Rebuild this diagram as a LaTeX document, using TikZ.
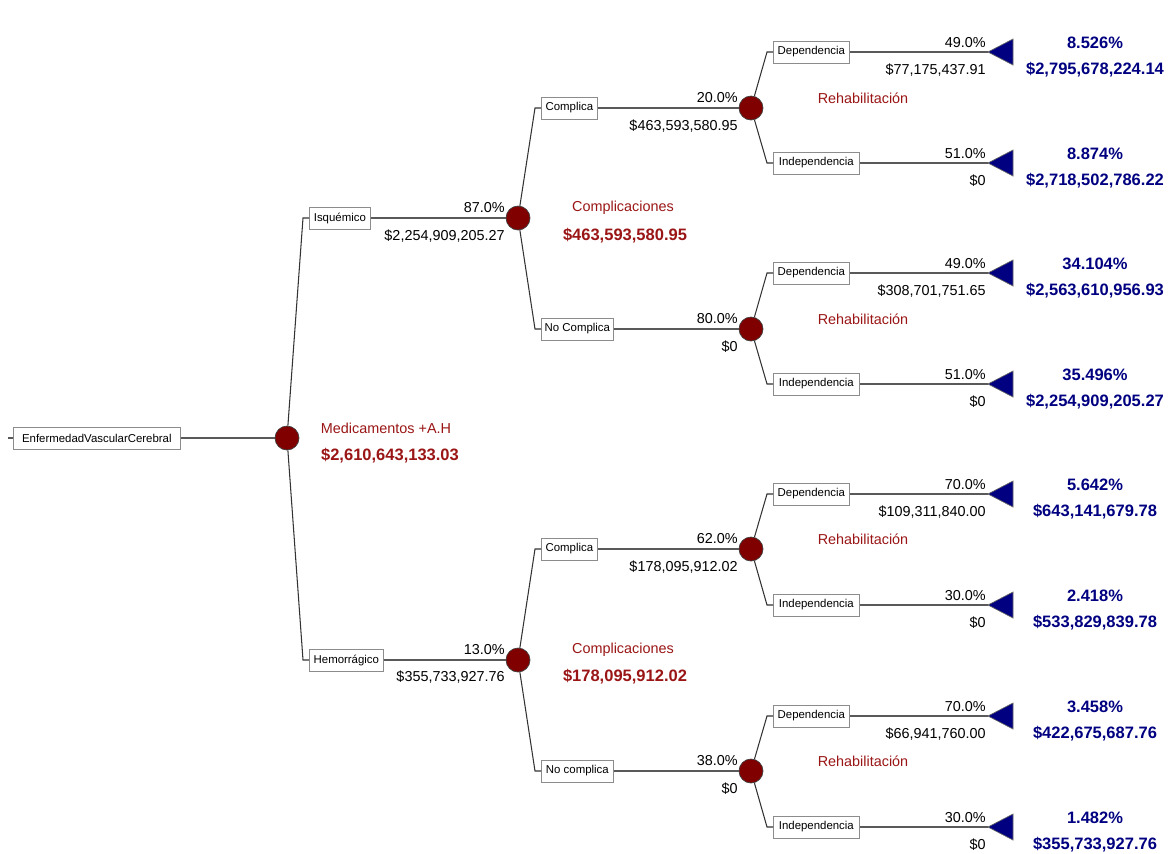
\documentclass[tikz,border=0pt]{standalone}
\usepackage{fontspec}
\setmainfont{Liberation Sans}
\usetikzlibrary{positioning,calc}
\definecolor{chancered}{HTML}{800000}
\definecolor{textred}{HTML}{9A1515}
\definecolor{termblue}{HTML}{000080}
\tikzset{
  box/.style={draw=black!45, fill=white, font=\fontsize{6.5}{7}\selectfont, minimum height=0.44cm, inner sep=1pt},
  chance/.style={circle, draw=black!75, fill=chancered, minimum size=0.48cm, inner sep=0pt},
  branch/.style={draw=black!80, line width=0.6pt},
  stem/.style={draw=black!65, line width=1.1pt},
  lbl/.style={font=\fontsize{8.2}{9}\selectfont, inner sep=0pt},
  nodename/.style={font=\fontsize{8.2}{9}\selectfont, text=textred, inner sep=0pt},
  cost/.style={font=\bfseries\fontsize{9.4}{11}\selectfont, text=textred, inner sep=0pt},
  result/.style={font=\bfseries\fontsize{9.4}{11}\selectfont, text=termblue, inner sep=0pt},
  term/.style={fill=termblue, draw=black!60, line width=0.4pt}
}
\begin{document}
\begin{tikzpicture}[x=0.02cm, y=-0.02cm]

	\useasboundingbox (0,0) rectangle (1173,853);

	% root
	\coordinate (rootin) at (8,438);
	\node[box, anchor=west, minimum width=3.34cm] (root) at (13,438) {EnfermedadVascularCerebral};
	\node[chance] (c0) at (287,438) {};
	\node[nodename] (c0name) at (386,428) {Medicamentos +A.H};
	\node[cost] (c0cost) at (390,456) {\$2,610,643,133.03};
	\draw[stem] (rootin) -- (root.west);
	\draw[stem] (root) -- (c0);

	% Isquemico
	\node[box, anchor=west, minimum width=1.22cm] (isq) at (309,218) {Isquémico};
	\node[chance] (ci) at (518,218) {};
	\node[lbl, anchor=east] at (505,208) {87.0\%};
	\node[lbl, anchor=east] at (505,236) {\$2,254,909,205.27};
	\node[nodename] at (623,208) {Complicaciones};
	\node[cost] at (625,236) {\$463,593,580.95};
	\draw[branch] (c0) -- ([xshift=-0.12cm]isq.west) -- (isq.west);
	\draw[stem] (isq) -- (ci);

	% Hemorragico
	\node[box, anchor=west, minimum width=1.48cm] (hem) at (309,660) {Hemorrágico};
	\node[chance] (ch) at (518,660) {};
	\node[lbl, anchor=east] at (505,650) {13.0\%};
	\node[lbl, anchor=east] at (505,677) {\$355,733,927.76};
	\node[nodename] at (623,650) {Complicaciones};
	\node[cost] at (625,677) {\$178,095,912.02};
	\draw[branch] (c0) -- ([xshift=-0.12cm]hem.west) -- (hem.west);
	\draw[stem] (hem) -- (ch);

	% Isquemico - Complica
	\node[box, anchor=west, minimum width=1.12cm] (icomp) at (541,108) {Complica};
	\node[chance] (cic) at (751,108) {};
	\node[lbl, anchor=east] at (738,98) {20.0\%};
	\node[lbl, anchor=east] at (738,126) {\$463,593,580.95};
	\node[nodename] at (863,98) {Rehabilitación};
	\draw[branch] (ci) -- ([xshift=-0.12cm]icomp.west) -- (icomp.west);
	\draw[stem] (icomp) -- (cic);

	% Isquemico - No Complica
	\node[box, anchor=west, minimum width=1.44cm] (inocomp) at (541,329) {No Complica};
	\node[chance] (cin) at (751,329) {};
	\node[lbl, anchor=east] at (738,319) {80.0\%};
	\node[lbl, anchor=east] at (738,347) {\$0};
	\node[nodename] at (863,319) {Rehabilitación};
	\draw[branch] (ci) -- ([xshift=-0.12cm]inocomp.west) -- (inocomp.west);
	\draw[stem] (inocomp) -- (cin);

	% Hemorragico - Complica
	\node[box, anchor=west, minimum width=1.12cm] (hcomp) at (541,549) {Complica};
	\node[chance] (chc) at (751,549) {};
	\node[lbl, anchor=east] at (738,539) {62.0\%};
	\node[lbl, anchor=east] at (738,567) {\$178,095,912.02};
	\node[nodename] at (863,539) {Rehabilitación};
	\draw[branch] (ch) -- ([xshift=-0.12cm]hcomp.west) -- (hcomp.west);
	\draw[stem] (hcomp) -- (chc);

	% Hemorragico - No complica
	\node[box, anchor=west, minimum width=1.44cm] (hnocomp) at (541,771) {No complica};
	\node[chance] (chn) at (751,771) {};
	\node[lbl, anchor=east] at (738,761) {38.0\%};
	\node[lbl, anchor=east] at (738,789) {\$0};
	\node[nodename] at (863,761) {Rehabilitación};
	\draw[branch] (ch) -- ([xshift=-0.12cm]hnocomp.west) -- (hnocomp.west);
	\draw[stem] (hnocomp) -- (chn);

	% terminals
	\node[box, anchor=west, minimum width=1.52cm] (dep1) at (773,52) {Dependencia};
	\node[box, anchor=west, minimum width=1.72cm] (ind1) at (773,163) {Independencia};
	\node[box, anchor=west, minimum width=1.52cm] (dep2) at (773,273) {Dependencia};
	\node[box, anchor=west, minimum width=1.72cm] (ind2) at (773,384) {Independencia};
	\node[box, anchor=west, minimum width=1.52cm] (dep3) at (773,494) {Dependencia};
	\node[box, anchor=west, minimum width=1.72cm] (ind3) at (773,605) {Independencia};
	\node[box, anchor=west, minimum width=1.52cm] (dep4) at (773,716) {Dependencia};
	\node[box, anchor=west, minimum width=1.72cm] (ind4) at (773,827) {Independencia};

	\coordinate (t1) at (988,52);
	\coordinate (t2) at (988,163);
	\coordinate (t3) at (988,273);
	\coordinate (t4) at (988,384);
	\coordinate (t5) at (988,494);
	\coordinate (t6) at (988,605);
	\coordinate (t7) at (988,716);
	\coordinate (t8) at (988,827);

	\draw[branch] (cic) -- ([xshift=-0.12cm]dep1.west) -- (dep1.west);
	\draw[branch] (cic) -- ([xshift=-0.12cm]ind1.west) -- (ind1.west);
	\draw[branch] (cin) -- ([xshift=-0.12cm]dep2.west) -- (dep2.west);
	\draw[branch] (cin) -- ([xshift=-0.12cm]ind2.west) -- (ind2.west);
	\draw[branch] (chc) -- ([xshift=-0.12cm]dep3.west) -- (dep3.west);
	\draw[branch] (chc) -- ([xshift=-0.12cm]ind3.west) -- (ind3.west);
	\draw[branch] (chn) -- ([xshift=-0.12cm]dep4.west) -- (dep4.west);
	\draw[branch] (chn) -- ([xshift=-0.12cm]ind4.west) -- (ind4.west);

	\draw[stem] (dep1) -- (t1);
	\draw[stem] (ind1) -- (t2);
	\draw[stem] (dep2) -- (t3);
	\draw[stem] (ind2) -- (t4);
	\draw[stem] (dep3) -- (t5);
	\draw[stem] (ind3) -- (t6);
	\draw[stem] (dep4) -- (t7);
	\draw[stem] (ind4) -- (t8);

	\filldraw[term] (t1) -- ++(25,-13) -- ++(0,26) -- cycle;
	\filldraw[term] (t2) -- ++(25,-13) -- ++(0,26) -- cycle;
	\filldraw[term] (t3) -- ++(25,-13) -- ++(0,26) -- cycle;
	\filldraw[term] (t4) -- ++(25,-13) -- ++(0,26) -- cycle;
	\filldraw[term] (t5) -- ++(25,-13) -- ++(0,26) -- cycle;
	\filldraw[term] (t6) -- ++(25,-13) -- ++(0,26) -- cycle;
	\filldraw[term] (t7) -- ++(25,-13) -- ++(0,26) -- cycle;
	\filldraw[term] (t8) -- ++(25,-13) -- ++(0,26) -- cycle;

	% probabilities and payoffs
	\node[lbl, anchor=east] at (986,43) {49.0\%};
	\node[lbl, anchor=east] at (986,70) {\$77,175,437.91};
	\node[lbl, anchor=east] at (986,154) {51.0\%};
	\node[lbl, anchor=east] at (986,181) {\$0};
	\node[lbl, anchor=east] at (986,264) {49.0\%};
	\node[lbl, anchor=east] at (986,291) {\$308,701,751.65};
	\node[lbl, anchor=east] at (986,375) {51.0\%};
	\node[lbl, anchor=east] at (986,402) {\$0};
	\node[lbl, anchor=east] at (986,485) {70.0\%};
	\node[lbl, anchor=east] at (986,512) {\$109,311,840.00};
	\node[lbl, anchor=east] at (986,596) {30.0\%};
	\node[lbl, anchor=east] at (986,623) {\$0};
	\node[lbl, anchor=east] at (986,707) {70.0\%};
	\node[lbl, anchor=east] at (986,734) {\$66,941,760.00};
	\node[lbl, anchor=east] at (986,818) {30.0\%};
	\node[lbl, anchor=east] at (986,845) {\$0};

	% results
	\node[result] at (1095,43) {8.526\%};
	\node[result] at (1095,70) {\$2,795,678,224.14};
	\node[result] at (1095,154) {8.874\%};
	\node[result] at (1095,181) {\$2,718,502,786.22};
	\node[result] at (1095,264) {34.104\%};
	\node[result] at (1095,291) {\$2,563,610,956.93};
	\node[result] at (1095,375) {35.496\%};
	\node[result] at (1095,402) {\$2,254,909,205.27};
	\node[result] at (1095,485) {5.642\%};
	\node[result] at (1095,512) {\$643,141,679.78};
	\node[result] at (1095,596) {2.418\%};
	\node[result] at (1095,623) {\$533,829,839.78};
	\node[result] at (1095,707) {3.458\%};
	\node[result] at (1095,734) {\$422,675,687.76};
	\node[result] at (1095,818) {1.482\%};
	\node[result] at (1095,845) {\$355,733,927.76};

\end{tikzpicture}
\end{document}
